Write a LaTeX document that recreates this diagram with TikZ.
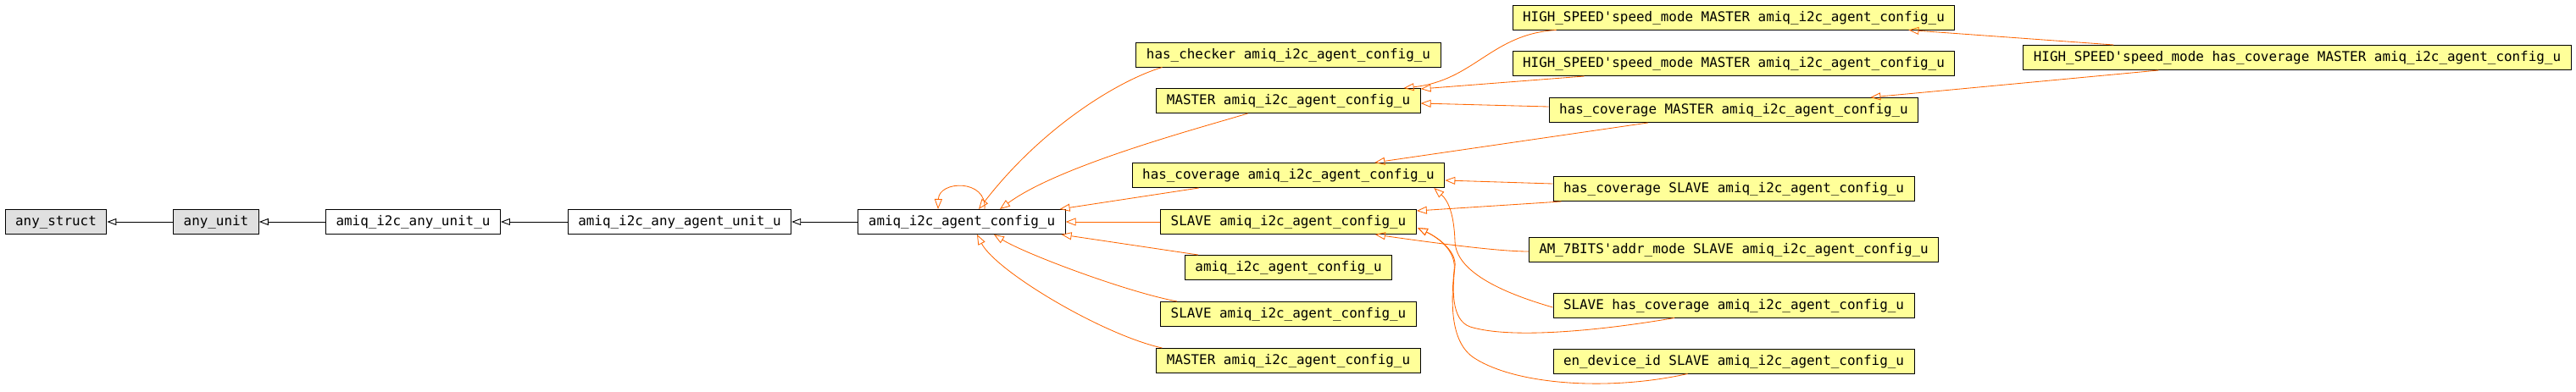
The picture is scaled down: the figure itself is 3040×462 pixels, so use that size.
\documentclass[tikz,border=0pt]{standalone}
\usepackage{fontspec}
\newfontfamily\dvm{DejaVu Sans Mono}
\usetikzlibrary{arrows.meta,calc}
\definecolor{edgeorange}{RGB}{255,102,0}
\definecolor{nodeyellow}{RGB}{255,255,153}
\definecolor{nodegray}{RGB}{224,224,224}
\newcommand{\ap}{\textquotesingle}
\begin{document}
\begin{tikzpicture}[x=0.5pt,y=-0.5pt,
  box/.style={draw=black,line width=0.5pt,inner xsep=6pt,inner ysep=0pt,
    minimum height=14.5pt,text height=6.3pt,text depth=1.6pt,
    font=\dvm\fontsize{7.95}{9}\selectfont},
  gbox/.style={box,fill=nodegray},
  wbox/.style={box,fill=white},
  ybox/.style={box,fill=nodeyellow},
  be/.style={draw=black,line width=0.45pt,-{Triangle[open,length=5.5pt,width=4pt]}},
  oe/.style={draw=edgeorange,line width=0.42pt,-{Triangle[open,length=6pt,width=4.5pt]}}]
\useasboundingbox (0,0) rectangle (3040,462);
% column 0/1
\node[gbox] (n1) at (66,262) {any\_struct};
\node[gbox] (n2) at (255,262) {any\_unit};
\node[wbox] (n3) at (487.5,262) {amiq\_i2c\_any\_unit\_u};
\node[wbox] (n4) at (802,262) {amiq\_i2c\_any\_agent\_unit\_u};
\node[wbox] (n5) at (1135,262) {amiq\_i2c\_agent\_config\_u};
% column 2
\node[ybox] (n6) at (1520.5,64.5) {has\_checker amiq\_i2c\_agent\_config\_u};
\node[ybox] (n7) at (1520.5,119) {MASTER amiq\_i2c\_agent\_config\_u};
\node[ybox] (n8) at (1520.5,207) {has\_coverage amiq\_i2c\_agent\_config\_u};
\node[ybox] (n9) at (1520.5,262) {SLAVE amiq\_i2c\_agent\_config\_u};
\node[ybox] (n10) at (1520.5,316) {amiq\_i2c\_agent\_config\_u};
\node[ybox] (n11) at (1520.5,371) {SLAVE amiq\_i2c\_agent\_config\_u};
\node[ybox] (n12) at (1520.5,426) {MASTER amiq\_i2c\_agent\_config\_u};
% column 3
\node[ybox] (n13) at (2046,20.5) {HIGH\_SPEED\ap speed\_mode MASTER amiq\_i2c\_agent\_config\_u};
\node[ybox] (n14) at (2046,75) {HIGH\_SPEED\ap speed\_mode MASTER amiq\_i2c\_agent\_config\_u};
\node[ybox] (n15) at (2046,130) {has\_coverage MASTER amiq\_i2c\_agent\_config\_u};
\node[ybox] (n16) at (2046,223) {has\_coverage SLAVE amiq\_i2c\_agent\_config\_u};
\node[ybox] (n17) at (2046,295) {AM\_7BITS\ap addr\_mode SLAVE amiq\_i2c\_agent\_config\_u};
\node[ybox] (n18) at (2046,360.5) {SLAVE has\_coverage amiq\_i2c\_agent\_config\_u};
\node[ybox] (n19) at (2046,426.5) {en\_device\_id SLAVE amiq\_i2c\_agent\_config\_u};
% column 4
\node[ybox] (n20) at (2711,68) {HIGH\_SPEED\ap speed\_mode has\_coverage MASTER amiq\_i2c\_agent\_config\_u};
% black edges
\draw[be] (n2.west) -- (n1.east);
\draw[be] (n3.west) -- (n2.east);
\draw[be] (n4.west) -- (n3.east);
\draw[be] (n5.west) -- (n4.east);
% edges into n5
\draw[oe] ($(n5.north)+(27,0)$) .. controls ($(n5.north)+(30,-36)$) and ($(n5.north)+(-27,-34)$) .. ($(n5.north)+(-28,0)$);
\draw[oe] ($(n6.south west)+(31,0)$) .. controls (1320,95) and (1230,150) .. ($(n5.north)+(20,0)$);
\draw[oe] ($(n7.south)+(-48,0)$) .. controls (1420,150) and (1250,195) .. ($(n5.north)+(45,0)$);
\draw[oe] ($(n8.south west)+(79,0)$) -- ($(n5.north east)+(-7,0)$);
\draw[oe] (n9.west) -- (n5.east);
\draw[oe] ($(n10.north west)+(16,0)$) -- ($(n5.south east)+(-5,0)$);
\draw[oe] ($(n11.north west)+(20,0)$) .. controls (1330,345) and (1210,300) .. ($(n5.south)+(38,0)$);
\draw[oe] ($(n12.north west)+(7,0)$) .. controls (1300,395) and (1175,320) .. ($(n5.south)+(18,0)$);
% column 3 -> column 2
\draw[oe] ($(n13.south west)+(52,0)$) .. controls (1760,40) and (1740,95) .. ($(n7.north east)+(-20,0)$);
\draw[oe] ($(n14.south west)+(85,0)$) -- ($(n7.north east)+(0,1)$);
\draw[oe] ($(n15.west)+(0,-4)$) -- ($(n7.east)+(0,3)$);
\draw[oe] ($(n15.south west)+(117,0)$) -- ($(n8.north east)+(-83,0)$);
\draw[oe] ($(n16.west)+(0,-6)$) -- ($(n8.east)+(0,6)$);
\draw[oe] ($(n16.south west)+(10,0)$) -- ($(n9.east)+(0,-13)$);
\draw[oe] ($(n17.west)+(0,2)$) .. controls (1770,297) and (1700,288) .. ($(n9.south east)+(-49,0)$);
\draw[oe] ($(n18.west)+(0,2.5)$) .. controls (1770,345) and (1718,320) .. (1717,285)
   .. controls (1716,255) and (1710,238) .. ($(n8.south east)+(-13,0)$);
\draw[oe] ($(n18.south)+(-70,0)$) .. controls (1880,392) and (1780,400) .. (1735,386)
   .. controls (1712,378) and (1714,340) .. (1717,315)
   .. controls (1719,298) and (1700,282) .. ($(n9.east)+(1,7)$);
\draw[oe] ($(n19.south)+(-54.5,0)$) .. controls (1900,462) and (1790,455) .. (1740,423)
   .. controls (1712,405) and (1712,360) .. (1716,320)
   .. controls (1719,298) and (1700,282) .. ($(n9.east)+(1,7)$);
% column 4 -> column 3
\draw[oe] ($(n20.north west)+(107,0)$) -- ($(n13.south east)+(-55,0)$);
\draw[oe] ($(n20.south west)+(160,0)$) -- ($(n15.north east)+(-57,0)$);
\end{tikzpicture}
\end{document}
